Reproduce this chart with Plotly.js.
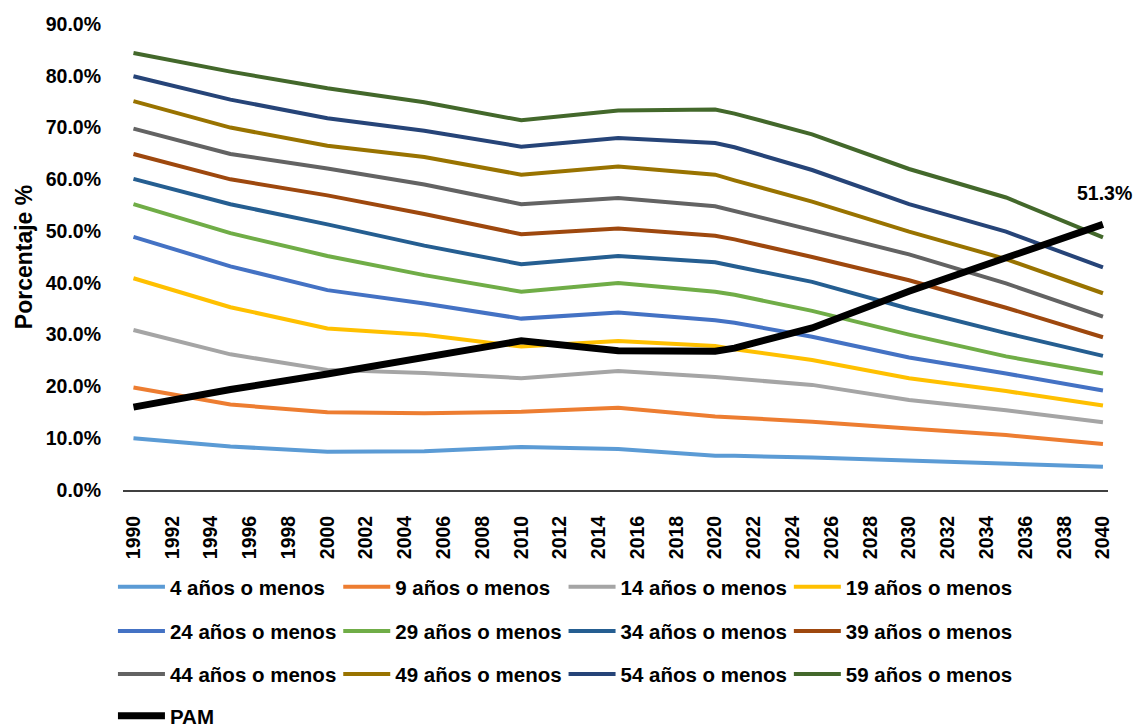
<!DOCTYPE html>
<html>
<head>
<meta charset="utf-8">
<script src="https://cdn.plot.ly/plotly-3.0.1.min.js"></script>
<style>
  html, body { margin: 0; padding: 0; background: #fff; }
  #chart { width: 1138px; height: 728px; }
</style>
</head>
<body>
<div id="chart"></div>
<script>
// ---- Data (percent) ----
const years = [1990, 1995, 2000, 2005, 2010, 2015, 2020, 2021, 2025, 2030, 2035, 2040];

const seriesNames = [
  "4 años o menos", "9 años o menos", "14 años o menos", "19 años o menos",
  "24 años o menos", "29 años o menos", "34 años o menos", "39 años o menos",
  "44 años o menos", "49 años o menos", "54 años o menos", "59 años o menos"
];

const age4  = [10.0,  8.4,  7.4,  7.5,  8.3,  7.9,  6.6,  6.6,  6.3,  5.7,  5.2,  4.5];
const age9  = [19.8, 16.5, 15.0, 14.8, 15.1, 15.9, 14.2, 14.0, 13.2, 11.9, 10.6,  8.9];
const age14 = [30.9, 26.2, 23.2, 22.6, 21.6, 23.0, 21.8, 21.5, 20.3, 17.4, 15.4, 13.1];
const age19 = [40.9, 35.3, 31.2, 30.0, 27.7, 28.8, 27.8, 27.2, 25.1, 21.6, 19.1, 16.3];
const age24 = [48.9, 43.2, 38.6, 36.0, 33.1, 34.3, 32.8, 32.3, 29.6, 25.6, 22.5, 19.2];
const age29 = [55.2, 49.6, 45.2, 41.5, 38.3, 40.0, 38.3, 37.7, 34.6, 30.0, 25.8, 22.5];
const age34 = [60.1, 55.2, 51.3, 47.2, 43.6, 45.2, 44.0, 43.2, 40.2, 35.0, 30.3, 25.9];
const age39 = [64.9, 60.0, 56.9, 53.3, 49.4, 50.5, 49.1, 48.4, 45.0, 40.5, 35.2, 29.5];
const age44 = [69.8, 64.9, 62.1, 59.0, 55.2, 56.4, 54.8, 53.9, 50.2, 45.5, 39.9, 33.5];
const age49 = [75.1, 70.0, 66.5, 64.3, 60.9, 62.5, 60.9, 59.8, 55.7, 49.9, 44.6, 38.0];
const age54 = [79.9, 75.4, 71.8, 69.4, 66.3, 68.0, 67.0, 66.2, 61.8, 55.2, 49.9, 43.0];
const age59 = [84.4, 80.8, 77.6, 74.9, 71.4, 73.3, 73.5, 72.7, 68.7, 62.0, 56.5, 48.8];
const pam   = [16.0, 19.4, 22.4, 25.6, 28.8, 26.9, 26.8, 27.4, 31.3, 38.4, 44.8, 51.3];

const ageValues = [age4, age9, age14, age19, age24, age29, age34, age39, age44, age49, age54, age59];
const colors = ["#5B9BD5", "#ED7D31", "#A5A5A5", "#FFC000", "#4472C4", "#70AD47",
                "#255E91", "#9E480E", "#636363", "#997300", "#264478", "#43682B"];
const legendRows = ["legend", "legend", "legend", "legend",
                    "legend2", "legend2", "legend2", "legend2",
                    "legend3", "legend3", "legend3", "legend3"];

const FONT = "Liberation Sans, Arial, sans-serif";

const traces = ageValues.map((vals, i) => ({
  type: "scatter", mode: "lines",
  x: years, y: vals, name: seriesNames[i],
  line: { color: colors[i], width: 4 },
  legend: legendRows[i],
  hoverinfo: "x+y+name"
}));
traces.push({
  type: "scatter", mode: "lines",
  x: years, y: pam, name: "PAM",
  line: { color: "#000000", width: 7 },
  legend: "legend4"
});

function legendCfg(yPos) {
  return {
    orientation: "h", x: -0.0102, xanchor: "left", y: yPos, yanchor: "middle",
    font: { family: FONT, size: 20.5, color: "#000", weight: 700 },
    itemwidth: 47, entrywidth: 163.3, entrywidthmode: "pixels",
    bgcolor: "rgba(0,0,0,0)", traceorder: "normal"
  };
}

const layout = {
  width: 1138, height: 728,
  margin: { l: 123, r: 30, t: 24, b: 238, autoexpand: false },
  paper_bgcolor: "#fff", plot_bgcolor: "#fff",
  font: { family: FONT, size: 19, color: "#000", weight: 700 },
  xaxis: {
    type: "linear", range: [1989.46, 2040.26],
    tick0: 1990, dtick: 2, tickangle: -90,
    showgrid: false, zeroline: false,
    showline: true, linecolor: "#404040", linewidth: 2,
    ticks: "", ticklabelstandoff: 16,
    tickfont: { family: FONT, size: 19.5, color: "#000", weight: 700 }
  },
  yaxis: {
    range: [0, 90], dtick: 10, tickformat: ".1f", ticksuffix: "%",
    showgrid: false, zeroline: false, showline: false, ticks: "",
    ticklabelstandoff: 21,
    tickfont: { family: FONT, size: 19.5, color: "#000", weight: 700 },
    title: { text: "Porcentaje %", standoff: 6,
             font: { family: FONT, size: 23, color: "#000", weight: 700 } }
  },
  showlegend: true,
  legend: legendCfg(-0.208),
  legend2: legendCfg(-0.303),
  legend3: legendCfg(-0.395),
  legend4: legendCfg(-0.485),
  annotations: [{
    x: years[years.length - 1], y: pam[pam.length - 1],
    xref: "x", yref: "y",
    text: pam[pam.length - 1].toFixed(1) + "%",
    showarrow: false, yshift: 31, xshift: 2,
    font: { family: FONT, size: 19.5, color: "#000", weight: 700 }
  }]
};

Plotly.newPlot("chart", traces, layout, { displayModeBar: false, responsive: false });
</script>
</body>
</html>
